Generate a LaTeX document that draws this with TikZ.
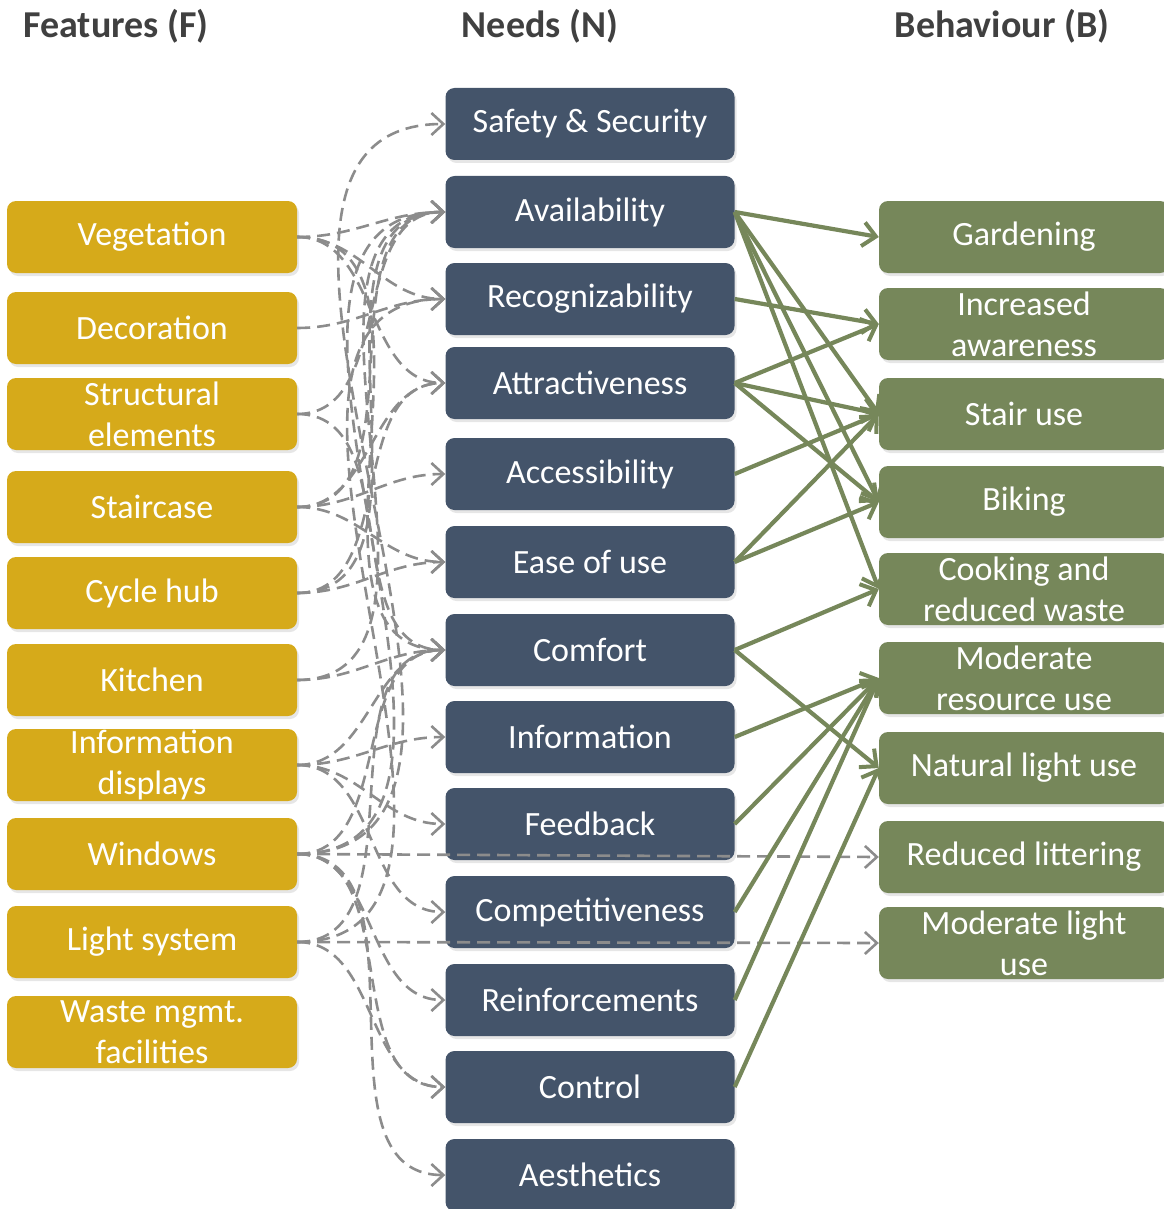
\documentclass[tikz,border=0pt]{standalone}
\usepackage{fontspec}
\setmainfont{Carlito}
\usepackage{xcolor}
\usepackage{tikz}
\usetikzlibrary{
  arrows.meta,
  shadows
}
\definecolor{featcol}{HTML}{D6AA1A}
\definecolor{needcol}{HTML}{44546A}
\definecolor{behcol}{HTML}{76875A}
\definecolor{linkgray}{HTML}{8C8C8C}
\definecolor{headgray}{HTML}{404040}
\tikzset{
  >=Latex,
  box/.style={rectangle,rounded corners=9pt,text=white,align=center,minimum width=290pt,minimum height=72pt,inner sep=0pt,font=\fontsize{34}{41}\selectfont,drop shadow={shadow xshift=2pt,shadow yshift=-3pt,opacity=0.2}},
  feature/.style={box,fill=featcol},
  need/.style={box,fill=needcol,minimum width=289pt},
  behaviour/.style={box,fill=behcol},
  heading/.style={font=\fontsize{38}{44}\selectfont\bfseries,text=headgray},
  dashlink/.style={-{Straight Barb[length=12pt,width=22pt,line width=2.6pt]},linkgray,line width=2.6pt,dash pattern=on 13pt off 7pt},
  greenlink/.style={-{Straight Barb[length=13pt,width=24pt,line width=4pt]},behcol,line width=4.2pt}
}

\begin{document}
\begin{tikzpicture}[x=1pt,y=-1pt]
    \useasboundingbox (0,0) rectangle (1163,1209);
    % Titel
    \node[heading] (hf) at (116,26) {Features (F)};
    \node[heading] (hn) at (540,26) {Needs (N)};
    \node[heading] (hb) at (1002,26) {Behaviour (B)};

    % Features
    \foreach \y/\name/\id in {237/Vegetation/1,328/Decoration/2,414/{Structural\\elements}/3,507/Staircase/4,593/Cycle hub/5,680/Kitchen/6,765/{Information\\displays}/7,854/Windows/8,942/Light system/9,1032/{Waste mgmt.\\facilities}/10}
        \node[feature] (f\id) at (152,\y) {\name};

    % Needs
    \foreach \y/\name/\id in {124/Safety \& Security/1,212/Availability/2,299/Recognizability/3,383/Attractiveness/4,474/Accessibility/5,562/Ease of use/6,650/Comfort/7,737/Information/8,824/Feedback/9,912/Competitiveness/10,1000/Reinforcements/11,1087/Control/12,1175/Aesthetics/13}
        \node[need] (n\id) at (590,\y) {\name};

    % Behaviour
    \foreach \y/\name/\id in {237/Gardening/1,324/{Increased\\awareness}/2,414/Stair use/3,502/Biking/4,589/{Cooking and\\reduced waste}/5,678/{Moderate\\resource use}/6,768/Natural light use/7,857/Reduced littering/8,943/{Moderate light\\use}/9}
        \node[behaviour] (b\id) at (1024,\y) {\name};

    % F -> N
    \foreach \a/\b in {1/2,1/3,1/4,1/7,2/3,3/2,3/7,4/2,4/4,4/5,4/6,5/2,5/4,5/6,6/2,6/7,7/7,7/8,7/9,7/10,8/1,8/2,8/7,8/11,8/12,8/13,9/3,9/7,9/12}
        \draw[dashlink] (f\a.east) to[out=0,in=180] (n\b.west);
    \draw[dashlink] (f8.east) -- (b8.west);
    \draw[dashlink] (f9.east) -- (b9.west);

    % N -> B
    \foreach \a/\b in {2/1,2/3,2/4,2/5,3/2,4/2,4/3,4/4,5/3,6/3,6/4,7/5,7/7,8/6,9/6,10/6,11/6,12/7}
        \draw[greenlink] (n\a.east) -- (b\b.west);
\end{tikzpicture}
\end{document}
